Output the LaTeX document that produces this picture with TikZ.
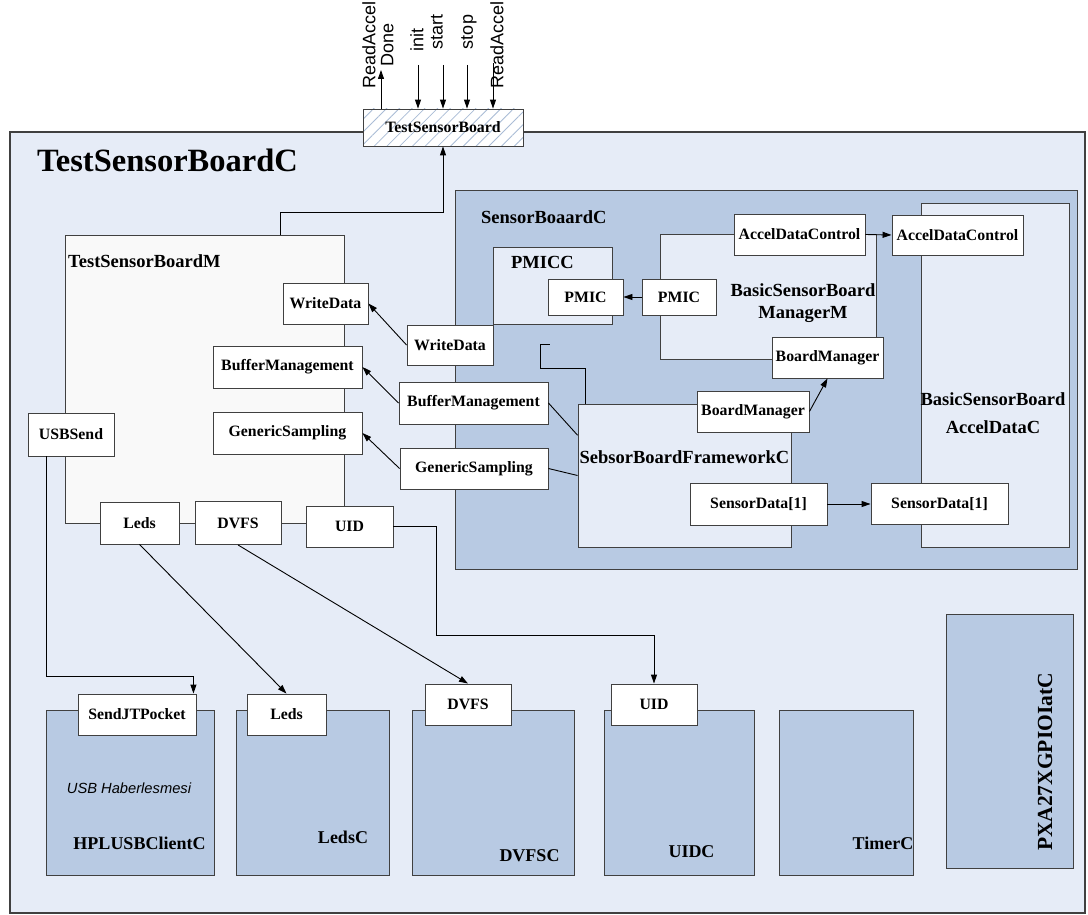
\documentclass[tikz,border=0pt]{standalone}
\usepackage{fontspec}
\setmainfont{Liberation Serif}
\setsansfont{Liberation Sans}
\usetikzlibrary{arrows.meta,patterns.meta,calc}
\definecolor{panel}{HTML}{E6ECF7}
\definecolor{deep}{HTML}{B8CAE3}
\definecolor{pale}{HTML}{F9F9F9}
\definecolor{hatch}{HTML}{A9BCD6}
\definecolor{edge}{HTML}{404040}
\begin{document}
\begin{tikzpicture}[x=1pt,y=-1pt,
  >={Triangle[length=9pt,width=6pt]},
  wire/.style={line width=0.9pt},
  wh/.style 2 args={minimum width=#1pt,minimum height=#2pt},
  box/.style={draw=edge,line width=0.9pt,inner sep=0pt},
  port/.style={box,fill=white,font=\fontsize{15.8}{18}\selectfont\bfseries},
  lab/.style={font=\fontsize{18.5}{22}\selectfont\bfseries,inner sep=0pt},
  blab/.style={font=\fontsize{18}{20}\selectfont\bfseries,inner sep=0pt},
  sig/.style={font=\fontsize{18}{18}\selectfont\sffamily,rotate=90,inner sep=0pt,align=center}]
\useasboundingbox (0,0) rectangle (1088,915);
\node[box,fill=panel,line width=1.1pt,wh={1075}{781}] (tsbc) at (547.5,522.5) {};
\node[font=\fontsize{32.5}{36}\selectfont\bfseries,inner sep=0pt,anchor=west] (tsbctitle) at (37,160) {TestSensorBoardC};
\node[port,preaction={fill=white},pattern={Lines[angle=45,distance=9pt,line width=0.8pt]},pattern color=hatch,wh={160}{37}] (tsb) at (443,127.5) {TestSensorBoard};
\node[sig] (readdone) at (378,45) {ReadAccel\\Done};
\node[sig] (init) at (417,40) {init};
\node[sig] (start) at (437,32) {start};
\node[sig] (stop) at (469,32) {stop};
\node[sig] (readaccel) at (497,45) {ReadAccel};
\coordinate (doneend) at (381,70);
\coordinate (initend) at (418,65);
\coordinate (startend) at (443,65);
\coordinate (stopend) at (467,65);
\coordinate (readend) at (493,63);
\draw[wire,->] (tsb.north -| doneend) -- (doneend);
\draw[wire,->] (initend) -- (initend |- tsb.north);
\draw[wire,->] (startend) -- (startend |- tsb.north);
\draw[wire,->] (stopend) -- (stopend |- tsb.north);
\draw[wire,->] (readend) -- (readend |- tsb.north);

\node[box,fill=pale,wh={279}{288}] (tsbm) at (204.5,379) {};
\node[lab,anchor=west] (tsbmlabel) at (68,261.5) {TestSensorBoardM};
\node[box,fill=deep,wh={622}{379}] (sbc) at (766,379.5) {};
\node[lab,anchor=west] (sbclabel) at (481,217) {SensorBoaardC};
\node[box,fill=panel,wh={119}{77}] (pmicc) at (552.5,285.5) {};
\node[lab] (pmicclabel) at (542.5,262) {PMICC};
\node[box,fill=panel,wh={216}{125}] (bsbm) at (768,296.5) {};
\node[lab,align=center] (bsbmlabel) at (803,303) {BasicSensorBoard\\ManagerM};
\node[box,fill=panel,wh={148}{344}] (accelc) at (995,375) {};
\node[lab,align=center,font=\fontsize{18.5}{28}\selectfont\bfseries] (accelclabel) at (993,413) {BasicSensorBoard\\AccelDataC};
\node[box,fill=panel,wh={213}{143}] (sbfw) at (684.5,475.5) {};
\node[lab] (sbfwlabel) at (684.5,457) {SebsorBoardFrameworkC};

\node[port,wh={85}{41}] (wdl) at (325.5,303.5) {WriteData};
\node[port,wh={149}{42}] (bml) at (287.5,367) {BufferManagement};
\node[port,wh={149}{42}] (gsl) at (287.5,433) {GenericSampling};
\node[port,wh={86}{43}] (usbsend) at (71,434.5) {USBSend};
\node[port,wh={79}{42}] (ledsm) at (139.5,523) {Leds};
\node[port,wh={86}{43}] (dvfsm) at (238,523) {DVFS};
\node[port,wh={87}{41}] (uidm) at (349.5,526.5) {UID};
\node[port,wh={86}{40}] (wdr) at (450,345) {WriteData};
\node[port,wh={149}{42}] (bmr) at (473.5,403) {BufferManagement};
\node[port,wh={148}{41}] (gsr) at (474,468.5) {GenericSampling};
\node[port,wh={75}{36}] (pmicin) at (585.5,297) {PMIC};
\node[port,wh={74}{36}] (pmicm) at (679,297) {PMIC};
\node[port,wh={131}{41}] (adcm) at (799.5,234.5) {AccelDataControl};
\node[port,wh={111}{41}] (bmm) at (827.5,357.5) {BoardManager};
\node[port,wh={131}{40}] (adca) at (957.5,235) {AccelDataControl};
\node[port,wh={137}{41}] (sda) at (939.5,504) {SensorData[1]};
\node[port,wh={112}{41}] (bmfw) at (753,411.5) {BoardManager};
\node[port,wh={137}{42}] (sdfw) at (758.5,504) {SensorData[1]};

\node[box,fill=deep,wh={168}{165}] (hplusb) at (130,792.5) {};
\node[port,wh={118}{41}] (sendjt) at (137,714.5) {SendJTPocket};
\node[font=\fontsize{14.7}{17}\selectfont\sffamily\itshape,inner sep=0pt] (usbnote) at (129,788) {USB Haberlesmesi};
\node[blab] (hplusblabel) at (139.5,843) {HPLUSBClientC};
\node[box,fill=deep,wh={153}{165}] (ledsc) at (312.5,792.5) {};
\node[port,wh={79}{41}] (ledsp) at (286.5,714.5) {Leds};
\node[blab] (ledsclabel) at (343,837) {LedsC};
\node[box,fill=deep,wh={162}{165}] (dvfsc) at (493,792.5) {};
\node[port,wh={86}{41}] (dvfsp) at (468,704.5) {DVFS};
\node[blab] (dvfsclabel) at (529.5,856) {DVFSC};
\node[box,fill=deep,wh={150}{165}] (uidc) at (679,792.5) {};
\node[port,wh={86}{41}] (uidp) at (654,704.5) {UID};
\node[blab] (uidclabel) at (691.5,852) {UIDC};
\node[box,fill=deep,wh={134}{165}] (timerc) at (846,792.5) {};
\node[blab] (timerclabel) at (883,843) {TimerC};
\node[box,fill=deep,wh={127}{254}] (pxa) at (1009.5,741) {};
\node[blab,rotate=90,font=\fontsize{21.5}{24}\selectfont\bfseries] (pxalabel) at (1045,762) {PXA27XGPIOIatC};

\draw[wire,->] ($(tsbm.north west)!0.77!(tsbm.north east)$) |- ($(tsb.south)+(0,66)$) -- (tsb.south);
\draw[wire,->] (wdr.west) -- (wdl.east);
\draw[wire,->] (bmr.west) -- (bml.east);
\draw[wire,->] (gsr.west) -- (gsl.east);
\draw[wire] (bmr.east) -- ($(sbfw.north west)!0.22!(sbfw.south west)$);
\draw[wire] (gsr.east) -- (sbfw.west);
\draw[wire,->] (pmicm.west) -- (pmicin.east);
\draw[wire,->] (adcm.east) -- (adca.west);
\draw[wire,->] (bmfw.east) -- (bmm.south);
\draw[wire,->] (sdfw.east) -- (sda.west);
\coordinate (stub) at (550,344);
\draw[wire] ($(sbfw.north west)+(8,0)$) |- ($(stub)+(-10,24)$) |- (stub);
\draw[wire,->] ($(usbsend.south west)!0.22!(usbsend.south east)$) |- ($(sendjt.north east)+(-3,-17)$) -- ($(sendjt.north east)+(-3,0)$);
\draw[wire,->] (ledsm.south) -- (ledsp.north);
\draw[wire,->] (dvfsm.south) -- (dvfsp.north);
\draw[wire,->] (uidm.east) -| ($(uidm.east)+(43,109)$) -| (uidp.north);
\end{tikzpicture}
\end{document}
